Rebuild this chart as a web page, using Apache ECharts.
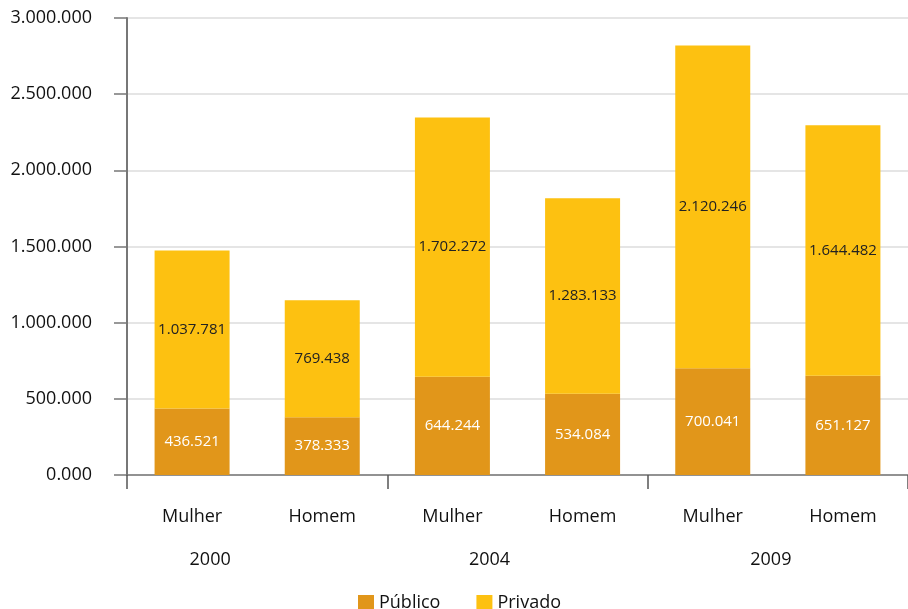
<!DOCTYPE html>
<html>
<head>
<meta charset="utf-8">
<script src="https://cdn.jsdelivr.net/npm/echarts@6/dist/echarts.min.js"></script>
<style>
html,body{margin:0;padding:0;background:#fff;}
#chart{width:908px;height:609px;}
</style>
</head>
<body>
<div id="chart"></div>
<script>
var categories = ['Mulher', 'Homem', 'Mulher', 'Homem', 'Mulher', 'Homem'];
var years = ['2000', '2004', '2009'];
var publico = [436521, 378333, 644244, 534084, 700041, 651127];
var privado = [1037781, 769438, 1702272, 1283133, 2120246, 1644482];
var seriesNames = ['Público', 'Privado'];

function fmt(v) {
  if (v === 0) return '0.000';
  return String(Math.round(v)).replace(/\B(?=(\d{3})+(?!\d))/g, '.');
}

var FONT = 'Open Sans';
var chart = echarts.init(document.getElementById('chart'));
chart.setOption({
  animation: false,
  textStyle: { fontFamily: FONT },
  grid: { left: 127, right: -5, top: 18, bottom: 134, containLabel: false },
  legend: {
    data: seriesNames,
    left: 358, top: 594, padding: 0,
    icon: 'rect', itemWidth: 16, itemHeight: 16, itemGap: 36,
    textStyle: { fontFamily: FONT, fontSize: 18, color: '#111' }
  },
  xAxis: [
    {
      type: 'category', data: categories, position: 'bottom',
      axisLine: { show: true, lineStyle: { color: '#777', width: 1.5 } },
      axisTick: { show: false },
      axisLabel: { fontFamily: FONT, fontSize: 18, color: '#111', margin: 33 }
    },
    {
      type: 'category', data: years, position: 'bottom',
      axisLine: { show: false },
      axisTick: { show: true, length: 14, lineStyle: { color: '#555', width: 1.5 } },
      axisLabel: {
        margin: 76,
        formatter: function (v, i) { return '{y' + i + '|' + v + '}'; },
        rich: {
          y0: { fontFamily: FONT, fontSize: 18, color: '#111', padding: [0, 94, 0, 0] },
          y1: { fontFamily: FONT, fontSize: 18, color: '#111', padding: [0, 56, 0, 0] },
          y2: { fontFamily: FONT, fontSize: 18, color: '#111', padding: [0, 14, 0, 0] }
        }
      }
    }
  ],
  yAxis: {
    type: 'value', min: 0, max: 3000000, interval: 500000,
    axisLine: { show: true, lineStyle: { color: '#777', width: 2 } },
    axisTick: { show: true, length: 13, lineStyle: { color: '#777', width: 1.5 } },
    splitLine: { show: true, lineStyle: { color: '#ddd', width: 1.5 } },
    axisLabel: { fontFamily: FONT, fontSize: 18, color: '#111', margin: 35, formatter: fmt }
  },
  series: [
    {
      name: seriesNames[0], type: 'bar', stack: 'total', xAxisIndex: 0,
      data: publico, barWidth: 75,
      itemStyle: { color: '#E1961A' },
      label: { show: true, position: 'inside', color: '#fff', fontFamily: FONT, fontSize: 15,
        formatter: function (p) { return fmt(p.value); } }
    },
    {
      name: seriesNames[1], type: 'bar', stack: 'total', xAxisIndex: 0,
      data: privado, barWidth: 75,
      itemStyle: { color: '#FDC111' },
      label: { show: true, position: 'inside', color: '#222', fontFamily: FONT, fontSize: 15,
        formatter: function (p) { return fmt(p.value); } }
    }
  ]
});
</script>
</body>
</html>
